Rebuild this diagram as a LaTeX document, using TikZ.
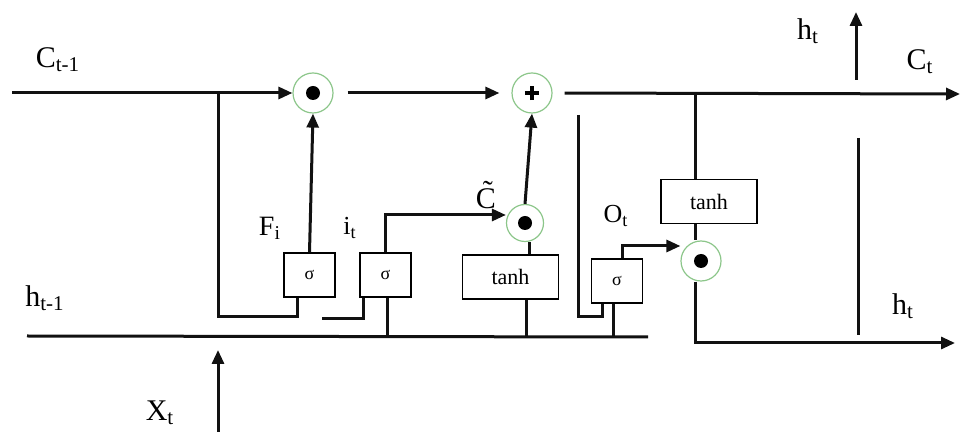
\documentclass[tikz,border=0pt]{standalone}
\usepackage{amsmath,amssymb}
\usepackage{fontspec}
\setmainfont{Liberation Serif}
\usepackage{tikz}
\usetikzlibrary{arrows.meta, positioning, calc}
\usepackage{xcolor}
\definecolor{lgreen}{HTML}{8CC68A}
\definecolor{lline}{HTML}{111111}
\tikzset{
  wire/.style={line width=1.5pt, lline},
  arr/.style={-{Triangle[length=7pt,width=6pt]}, line width=1.5pt, lline},
  gatebox/.style={draw, line width=0.75pt, minimum width=25.5pt, minimum height=22pt,
                  inner sep=0pt, font=\fontsize{9}{10}\selectfont},
  tanhbox/.style={draw, line width=0.75pt, minimum width=48pt, minimum height=22pt,
                  inner sep=0pt, font=\fontsize{11}{12}\selectfont},
  opcirc/.style={draw=lgreen, circle, line width=0.6pt, minimum size=20pt, inner sep=0pt},
  lbl/.style={font=\fontsize{15}{17}\selectfont, inner sep=0pt},
}

\begin{document}
\begin{tikzpicture}[x=0.5pt, y=-0.5pt]
  \useasboundingbox (0,0) rectangle (964,432);

  %% Operators on the cell line
  \node[opcirc] (mulf) at (313,93) {};
  \node[opcirc] (addc) at (532,93) {};
  \node[opcirc, minimum size=18.5pt] (mulc) at (525,223) {};
  \node[opcirc] (mulo) at (701,261) {};
  \foreach \n in {mulf, mulc, mulo}
    \fill (\n) circle (3.5pt);
  \draw[line width=2pt] (addc) ++(-3.6pt,0) -- ++(7.2pt,0);
  \draw[line width=2pt] (addc) ++(0,-3.6pt) -- ++(0,7.2pt);

  %% Gate boxes
  \node[gatebox] (sigf) at (309.5,275) {σ};
  \node[gatebox] (sigi) at (385.5,275) {σ};
  \node[tanhbox] (tanhc) at (510.5,277) {tanh};
  \node[gatebox] (sigo) at (617,281) {σ};
  \node[tanhbox] (tanhh) at (709,201.5) {tanh};

  %% Labels
  \node[lbl] (lcprev) at (58,60) {C\textsubscript{t-1}};
  \node[lbl] (lhprev) at (45,298) {h\textsubscript{t-1}};
  \node[lbl] (lx) at (160,413) {X\textsubscript{t}};
  \node[lbl, font=\fontsize{14}{16}\selectfont] (lf) at (270,228) {F\textsubscript{i}};
  \node[lbl, font=\fontsize{13}{15}\selectfont] (li) at (350,228) {i\textsubscript{t}};
  \node[lbl] (lctil) at (486,195) {C̃};
  \node[lbl, font=\fontsize{13}{15}\selectfont] (lo) at (616,216) {O\textsubscript{t}};
  \node[lbl] (lhtop) at (808,31) {h\textsubscript{t}};
  \node[lbl] (lct) at (920,62) {C\textsubscript{t}};
  \node[lbl] (lhbot) at (903,306) {h\textsubscript{t}};

  %% Free ends and junctions
  \coordinate (cin) at (12,93);
  \coordinate (jf) at (218,93);
  \coordinate (cout) at (960,94);
  \coordinate (jo) at (695,93);
  \coordinate (hin) at (27,336);
  \coordinate (hend) at (648,337);
  \coordinate (xin) at (218,432);
  \coordinate (xtop) at (218,350);
  \coordinate (ifree) at (322,319);
  \coordinate (ofree) at (578,115);
  \coordinate (hout) at (955,343);
  \coordinate (vtop) at (858,138);
  \coordinate (vbot) at (858,335);
  \coordinate (htail) at (856,80);
  \coordinate (hhead) at (856,12);

  %% Cell state path
  \draw[arr] (cin) -- (mulf.west);
  \draw[arr, shorten <=7pt, shorten >=6pt] (mulf.east) -- (addc.west);
  \draw[arr, shorten <=6pt] (addc.east) -- (cout);

  %% Forget gate
  \draw[wire] (jf) -- (218,317) -| ([xshift=-6pt]sigf.south);
  \draw[arr] (sigf.north) -- (mulf.south);

  %% Input gate and candidate
  \draw[wire] (ifree) -| ([xshift=-11pt]sigi.south);
  \draw[wire] ([xshift=1pt]sigi.south) -- ([xshift=1pt]sigi.south |- hin);
  \draw[arr] (sigi.north) |- ([yshift=4pt]mulc.west);
  \draw[wire] ([xshift=2pt]mulc.south) -- ([xshift=2pt]mulc.south |- tanhc.north);
  \draw[wire] ([xshift=8pt]tanhc.south) -- ([xshift=8pt]tanhc.south |- hin);
  \draw[arr] (mulc.north) -- (addc.south);

  %% Hidden input and x input
  \draw[wire] (hin) -- (hend);
  \draw[arr] (xin) -- (xtop);

  %% Output gate
  \draw[wire] (ofree) -- (578,317) -| ([xshift=-7.5pt]sigo.south);
  \draw[wire] ([xshift=-2pt]sigo.south) -- ([xshift=-2pt]sigo.south |- hend);
  \draw[arr] ([xshift=2.5pt]sigo.north) |- ([yshift=7.5pt]mulo.west);
  \draw[wire] (jo) -- (jo |- tanhh.north);
  \draw[wire] (jo |- tanhh.south) -- (jo |- mulo.north);
  \draw[arr] (jo |- mulo.south) |- (hout);

  %% h_t outputs
  \draw[wire] (vtop) -- (vbot);
  \draw[arr] (htail) -- (hhead);

\end{tikzpicture}
\end{document}
